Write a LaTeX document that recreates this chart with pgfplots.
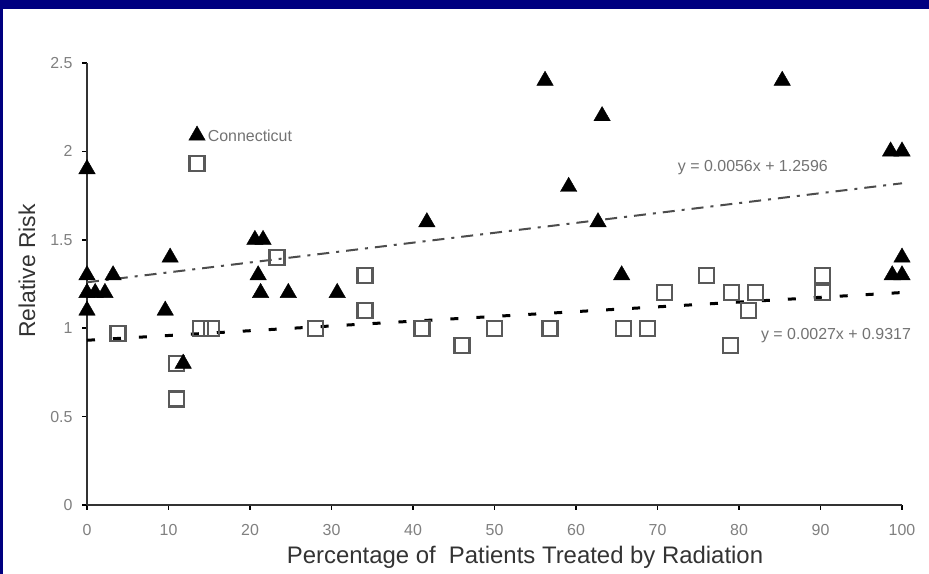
\documentclass[border=0pt]{standalone}
\usepackage{fontspec}
\setmainfont{Liberation Sans}
\usepackage{pgfplots}
\pgfplotsset{compat=1.18}
\definecolor{navyframe}{RGB}{0,0,128}
\begin{document}
\begin{tikzpicture}[x=1bp,y=1bp]
\useasboundingbox (0,0) rectangle (929,574);
\fill[white] (0,0) rectangle (929,574);
\fill[navyframe] (0,565) rectangle (929,574);
\fill[navyframe] (0,0) rectangle (3,574);
\begin{axis}[
  at={(87bp,69bp)}, anchor=south west,
  scale only axis, width=815bp, height=442bp,
  xmin=0, xmax=100, ymin=0, ymax=2.5,
  axis lines=left,
  axis line style={-, line width=2.5bp, black!80},
  clip=false,
  xtick={0,10,...,100},
  ytick={0,0.5,1,1.5,2,2.5},
  yticklabels={0,0.5,1,1.5,2,2.5},
  tick align=outside,
  major tick length=5bp,
  tick style={black, line width=1.5bp},
  /pgf/number format/assume math mode=true,
  ticklabel style={font=\fontsize{16}{16}\selectfont, text=black!50},
  xticklabel style={yshift=-11bp},
  yticklabel style={xshift=-6bp},
]
% trend lines
\addplot[gray!60!black, line width=2bp, dash pattern=on 12bp off 7bp on 3bp off 7bp] coordinates {(0,1.2596) (100,1.8196)};
\addplot[black, line width=3bp, dash pattern=on 8bp off 18bp] coordinates {(0,0.9317) (100,1.2017)};
% squares
\addplot[only marks, mark=square, mark size=7.5bp, mark options={line width=2.2bp, draw=black!65, fill=white}] coordinates {
(3.8,0.97) (11,0.8) (11,0.6) (13.5,1.93) (13.9,1.0) (15.3,1.0) (23.3,1.4) (28,1.0)
(34.1,1.3) (34.1,1.1) (41.1,1.0) (46,0.9) (50,1.0) (56.8,1.0) (65.8,1.0) (68.8,1.0)
(70.9,1.2) (76,1.3) (79.1,1.2) (79,0.9) (81.2,1.1) (82,1.2) (90.2,1.3) (90.2,1.2)};
% triangles
\addplot[only marks, mark=triangle*, mark size=9.5bp, mark options={draw=black, fill=black}] coordinates {
(0,1.9) (0,1.3) (0,1.2) (0,1.1) (1,1.2) (2.2,1.2) (3.2,1.3) (9.6,1.1) (10.2,1.4)
(11.8,0.8) (13.5,2.09) (20.6,1.5) (21.6,1.5) (21,1.3) (21.3,1.2) (24.7,1.2) (30.7,1.2)
(41.7,1.6) (56.2,2.4) (59.1,1.8) (62.7,1.6) (63.2,2.2) (65.6,1.3) (85.3,2.4)
(98.6,2.0) (100,2.0) (98.8,1.3) (100,1.3) (100,1.4)};
\node[anchor=west, text=black!55, font=\fontsize{16}{16}\selectfont, inner sep=0pt] at (axis cs:14.8,2.09) {Connecticut};
\node[text=black!55, font=\fontsize{16}{16}\selectfont, inner sep=0pt] at (axis cs:81.7,1.91) {y = 0.0056x + 1.2596};
\node[text=black!55, font=\fontsize{16}{16}\selectfont, inner sep=0pt] at (axis cs:91.9,0.96) {y = 0.0027x + 0.9317};
\end{axis}
\node[rotate=90, text=black!80, font=\fontsize{23}{23}\selectfont] at (27,303) {Relative Risk};
\node[text=black!80, font=\fontsize{24}{24}\selectfont] at (525,17) {Percentage of~~Patients Treated by Radiation};
\end{tikzpicture}
\end{document}
